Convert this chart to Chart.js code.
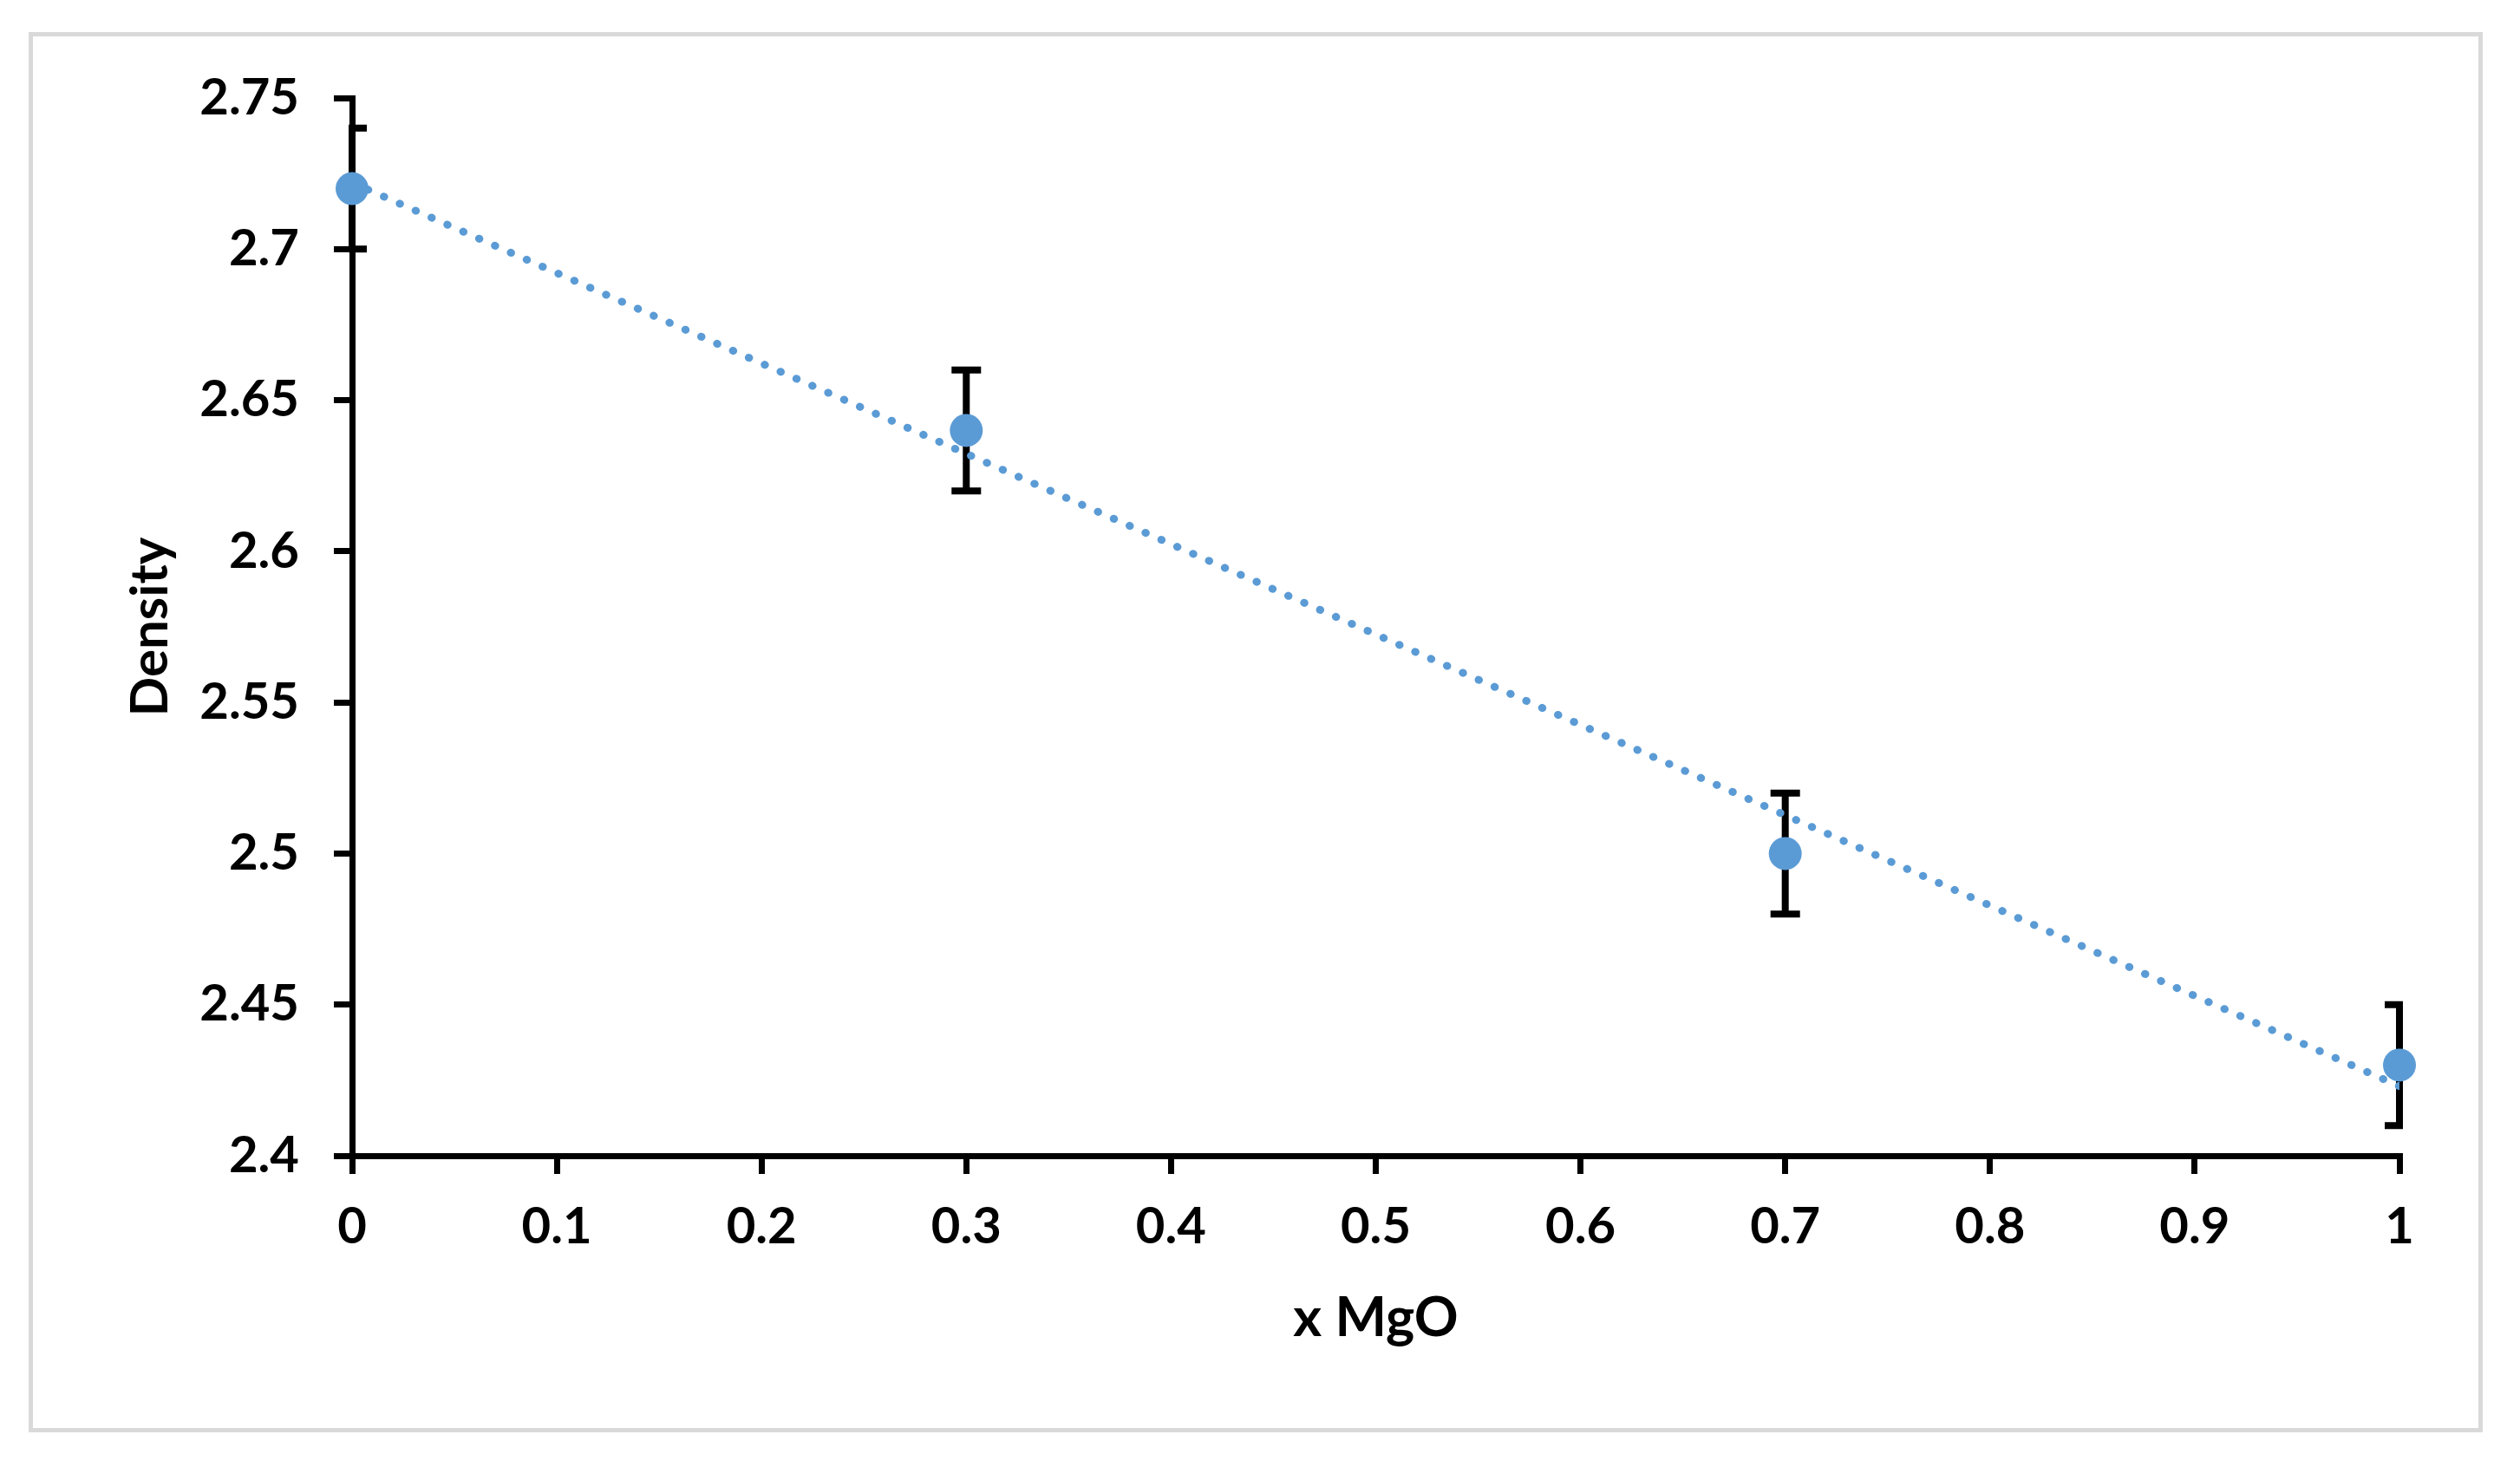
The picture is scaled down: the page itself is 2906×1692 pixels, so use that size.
<!DOCTYPE html>
<html>
<head>
<meta charset="utf-8">
<script src="https://cdn.jsdelivr.net/npm/chart.js@4.4.1/dist/chart.umd.min.js"></script>
<style>
  html, body { margin: 0; padding: 0; background: #fff; }
  #wrap { position: relative; width: 2906px; height: 1692px; }
  #frame {
    position: absolute; left: 33px; top: 37px; width: 2830px; height: 1615px;
    border: 5px solid #d9d9d9; box-sizing: border-box; pointer-events: none;
  }
</style>
</head>
<body>
<div id="wrap">
  <canvas id="myChart"></canvas>
  <div id="frame"></div>
</div>
<script>
// measured values
var xMgO = [0, 0.3, 0.7, 1];
var density = [2.72, 2.64, 2.50, 2.43];
var densityErr = [0.02, 0.02, 0.02, 0.02];

// linear trendline as drawn in the picture (ends)
var trendX = [0, 1];
var trendY = [2.722, 2.423];

var xTicks = [0, 0.1, 0.2, 0.3, 0.4, 0.5, 0.6, 0.7, 0.8, 0.9, 1];
var yTicks = [2.4, 2.45, 2.5, 2.55, 2.6, 2.65, 2.7, 2.75];

var pointColor = "#5b9bd5";

function toXY(xs, ys) {
    var out = [];
    for (var i = 0; i < xs.length; i++) {
        out.push({ x: xs[i], y: ys[i] });
    }
    return out;
}

// error bars, caps clipped at the plot edges like the original
var errorBars = {
    id: "errorBars",
    beforeDatasetsDraw: function (chart) {
        var ctx = chart.ctx;
        var xs = chart.scales.x;
        var ys = chart.scales.y;
        var area = chart.chartArea;
        var cap = 17;
        var lw = 8;
        ctx.save();
        ctx.beginPath();
        ctx.rect(area.left - lw / 2, area.top - 40, area.right - area.left + lw, area.bottom - area.top + 80);
        ctx.clip();
        ctx.strokeStyle = "#000";
        ctx.lineWidth = lw;
        ctx.lineCap = "butt";
        for (var i = 0; i < xMgO.length; i++) {
            var px = xs.getPixelForValue(xMgO[i]);
            var top = ys.getPixelForValue(density[i] + densityErr[i]);
            var bot = ys.getPixelForValue(density[i] - densityErr[i]);
            ctx.beginPath();
            ctx.moveTo(px, top - lw / 2);
            ctx.lineTo(px, bot + lw / 2);
            ctx.moveTo(px - cap, top);
            ctx.lineTo(px + cap, top);
            ctx.moveTo(px - cap, bot);
            ctx.lineTo(px + cap, bot);
            ctx.stroke();
        }
        ctx.restore();
    }
};

var tickFont = { family: "Lato", weight: "bold", size: 58 };

new Chart("myChart", {
    type: "scatter",
    data: {
        datasets: [{
            label: "Density",
            data: toXY(xMgO, density),
            backgroundColor: pointColor,
            borderWidth: 0,
            pointRadius: 19,
            pointHoverRadius: 19,
            clip: false
        }, {
            type: "line",
            label: "Trend",
            data: toXY(trendX, trendY),
            borderColor: pointColor,
            borderWidth: 9,
            borderDash: [0.5, 19.5],
            borderCapStyle: "round",
            pointRadius: 0,
            fill: false
        }]
    },
    options: {
        responsive: true,
        maintainAspectRatio: false,
        animation: false,
        devicePixelRatio: 1,
        layout: { padding: { left: 0, top: 113, right: 139, bottom: 0 } },
        plugins: {
            legend: { display: false },
            tooltip: { enabled: false }
        },
        scales: {
            x: {
                type: "linear",
                min: 0,
                max: 1,
                afterBuildTicks: function (scale) {
                    scale.ticks = xTicks.map(function (v) { return { value: v }; });
                },
                afterFit: function (scale) { scale.height = 359; },
                grid: { display: true, drawOnChartArea: false, drawTicks: true, tickLength: 21, color: "#000", lineWidth: 7 },
                border: { display: true, color: "#000", width: 7 },
                ticks: {
                    color: "#000",
                    font: tickFont,
                    padding: 26,
                    maxRotation: 0,
                    callback: function (v) { return String(+v.toFixed(2)); }
                },
                title: {
                    display: true,
                    text: "x MgO",
                    color: "#000",
                    font: { family: "Lato", weight: "bold", size: 63 },
                    padding: { top: 0, bottom: 134 }
                }
            },
            y: {
                type: "linear",
                min: 2.4,
                max: 2.75,
                afterBuildTicks: function (scale) {
                    scale.ticks = yTicks.map(function (v) { return { value: v }; });
                },
                afterFit: function (scale) { scale.width = 406; },
                grid: { display: true, drawOnChartArea: false, drawTicks: true, tickLength: 21, color: "#000", lineWidth: 7 },
                border: { display: true, color: "#000", width: 7 },
                ticks: {
                    color: "#000",
                    font: tickFont,
                    padding: 40,
                    callback: function (v) { return String(+v.toFixed(2)); }
                },
                title: {
                    display: true,
                    text: "Density",
                    color: "#000",
                    font: { family: "Lato", weight: "bold", size: 60 },
                    padding: { top: 138, bottom: 0 }
                }
            }
        }
    },
    plugins: [errorBars]
});
</script>
</body>
</html>
